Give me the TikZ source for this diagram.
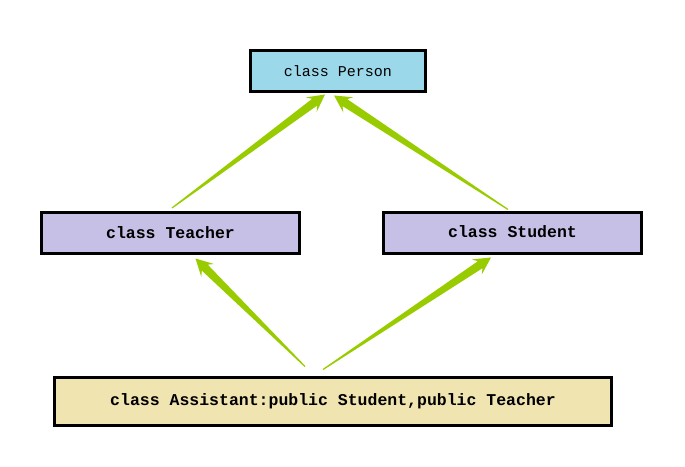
\documentclass[tikz,border=0pt]{standalone}
\usepackage{fontspec}
\setmonofont{Liberation Mono}
\usetikzlibrary{calc}
\definecolor{arrowgreen}{HTML}{99CC00}
\definecolor{personfill}{HTML}{9BD9EA}
\definecolor{midfill}{HTML}{C6C0E6}
\definecolor{assistfill}{HTML}{F0E4B0}
\newcommand{\taperarrow}[2]{%
  \coordinate (hb) at ($(#2)!17pt!(#1)$);
  \coordinate (hn) at ($(#2)!13pt!(#1)$);
  \fill[arrowgreen] ($(#1)!0.6pt!90:(#2)$) -- ($(hn)!4.2pt!90:(#2)$) -- ($(hb)!9pt!90:(#2)$) -- (#2)
     -- ($(hb)!9pt!-90:(#2)$) -- ($(hn)!4.2pt!-90:(#2)$) -- ($(#1)!0.6pt!-90:(#2)$) -- cycle;}
\begin{document}
\begin{tikzpicture}[x=1pt,y=1pt,
  classbox/.style={draw=black,line width=3pt,inner sep=0pt,font=\ttfamily}]
\useasboundingbox (0,0) rectangle (685,466);
\node[classbox,fill=personfill,minimum width=175pt,minimum height=41pt,font=\ttfamily\fontsize{15}{15}\selectfont] (person) at (338,395) {class Person};
\node[classbox,fill=midfill,minimum width=258pt,minimum height=41pt,font=\ttfamily\bfseries\fontsize{16.5}{16.5}\selectfont] (teacher) at (170.5,233) {class Teacher};
\node[classbox,fill=midfill,minimum width=258pt,minimum height=41pt,font=\ttfamily\bfseries\fontsize{16.5}{16.5}\selectfont] (student) at (512.5,233) {\raisebox{2pt}{class Student}};
\node[classbox,fill=assistfill,minimum width=557pt,minimum height=48pt,font=\ttfamily\bfseries\fontsize{16.5}{16.5}\selectfont] (assistant) at (333,64.5) {class Assistant:public Student,public Teacher};
\coordinate (t1) at ($(teacher.north)+(1.5,3)$);
\coordinate (p1) at ($(person.south)+(-13,-1.5)$);
\coordinate (s1) at ($(student.north)+(-4.5,1.5)$);
\coordinate (p2) at ($(person.south)+(-4,-2.5)$);
\coordinate (a1) at ($(assistant.north)+(-28,9.5)$);
\coordinate (t2) at ($(teacher.south)+(25,-3.5)$);
\coordinate (a2) at ($(assistant.north)+(-10,6.5)$);
\coordinate (s2) at ($(student.south)+(-21.5,-2.5)$);
\taperarrow{t1}{p1}
\taperarrow{s1}{p2}
\taperarrow{a1}{t2}
\taperarrow{a2}{s2}
\end{tikzpicture}
\end{document}
